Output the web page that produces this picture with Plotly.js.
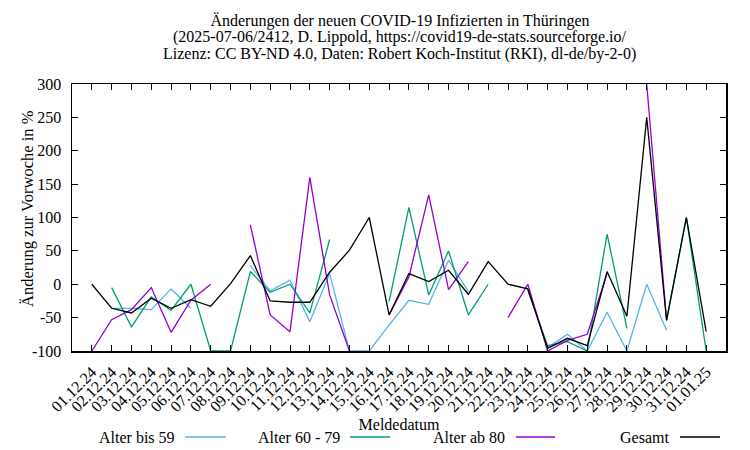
<!DOCTYPE html>
<html>
<head>
<meta charset="utf-8">
<script src="https://cdn.plot.ly/plotly-3.0.1.min.js"></script>
<style>html,body{margin:0;padding:0;background:#fff;}#chart{width:750px;height:450px;}</style>
</head>
<body>
<div id="chart"></div>
<script>
// ---- data ----
const dates = ['01.12.24','02.12.24','03.12.24','04.12.24','05.12.24','06.12.24','07.12.24','08.12.24',
  '09.12.24','10.12.24','11.12.24','12.12.24','13.12.24','14.12.24','15.12.24','16.12.24',
  '17.12.24','18.12.24','19.12.24','20.12.24','21.12.24','22.12.24','23.12.24','24.12.24',
  '25.12.24','26.12.24','27.12.24','28.12.24','29.12.24','30.12.24','31.12.24','01.01.25'];
const seriesNames = ['Alter bis 59', 'Alter 60 - 79', 'Alter ab 80', 'Gesamt'];
const alterBis59 = [null,-36,-36,-38,-7,-36,null,null,28,-10,6,-56,16,-100,-100,-61,
  -24,-30,36,-11,null,null,null,-95,-75,-100,-42,-100,0,-69,null,null];
const alter60bis79 = [null,-5,-64,-19,-39,0,-100,-100,19,-12,0,-43,67,null,null,-26,
  115,-16,50,-46,0,null,-9,-92,-86,-100,75,-66,null,-54,100,-100];
const alterAb80 = [-100,-53,-38,-5,-72,-24,0,null,89,-46,-71,160,-16,-100,null,-46,
  11,134,-8,34,null,-50,0,-100,-84,-75,16,null,300,-54,null,null];
const gesamt = [0,-36,-43,-21,-36,-23,-33,1,43,-25,-27,-27,18,51,100,-46,
  16,4,21,-15,34,0,-7,-96,-81,-92,19,-48,250,-54,100,-71];
const yTickVals = [-100,-50,0,50,100,150,200,250,300];
const yTickText = ['-100','-50','0','50','100','150','200','250','300'];
const titleLines = ['Änderungen der neuen COVID-19 Infizierten in Thüringen',
  '(2025-07-06/2412, D. Lippold, https://covid19-de-stats.sourceforge.io/',
  'Lizenz: CC BY-ND 4.0, Daten: Robert Koch-Institut (RKI), dl-de/by-2-0)'];
const xTitle = 'Meldedatum';
const yTitle = 'Änderung zur Vorwoche in %';

// ---- style ----
const colors = ['#56b4e9', '#009e73', '#9400d3', '#000000'];
const FONT = 'Liberation Serif, Times New Roman, serif';
const W = 750, H = 450;
const M = {l: 72, r: 24, t: 84, b: 99};
const pw = W - M.l - M.r, ph = H - M.t - M.b;
const px = x => (x - M.l) / pw;
const py = y => (H - M.b - y) / ph;

const allSeries = [alterBis59, alter60bis79, alterAb80, gesamt];
const traces = allSeries.map((vals, i) => ({
  type: 'scatter', mode: 'lines', x: dates, y: vals, name: seriesNames[i],
  line: {color: colors[i], width: 1.3}, connectgaps: false, showlegend: false,
  cliponaxis: true
}));

// custom legend (text followed by line sample, like gnuplot)
const legendPos = [
  {textRight: 177, x0: 185, x1: 226},
  {textRight: 342, x0: 350, x1: 390},
  {textRight: 507, x0: 516, x1: 555},
  {textRight: 671, x0: 680, x1: 720}
];
const legendY = 437;
const txtFont = {family: FONT, size: 16, color: '#000'};

const annotations = [];
const shapes = [];
titleLines.slice(1).forEach((t, i) => {
  annotations.push({text: t, xref: 'paper', yref: 'paper', x: px(400), y: py(37 + 16.5 * i),
    xanchor: 'center', yanchor: 'middle', showarrow: false, font: txtFont});
});
annotations.push({text: yTitle, xref: 'paper', yref: 'paper', x: px(27), y: py(209), textangle: -90,
  xanchor: 'center', yanchor: 'middle', showarrow: false, font: {family: FONT, size: 16.5, color: '#000'}});
seriesNames.forEach((n, i) => {
  const p = legendPos[i];
  annotations.push({text: n, xref: 'paper', yref: 'paper', x: px(p.textRight), y: py(legendY),
    xanchor: 'right', yanchor: 'middle', showarrow: false, font: txtFont});
  shapes.push({type: 'line', xref: 'paper', yref: 'paper', x0: px(p.x0), x1: px(p.x1), y0: py(legendY), y1: py(legendY),
    line: {color: colors[i], width: 1.3}});
});

const layout = {
  width: W, height: H, margin: M,
  paper_bgcolor: '#fff', plot_bgcolor: '#fff',
  font: txtFont,
  title: {text: titleLines[0], x: px(400), xanchor: 'center', xref: 'paper', y: 1 - 20 / H, yanchor: 'middle',
    font: txtFont},
  showlegend: false,
  xaxis: {
    type: 'category', range: [-1, 32], tickmode: 'linear', tick0: 0, dtick: 1,
    tickangle: -45, ticks: 'inside', ticklen: 6, tickwidth: 1, tickcolor: '#000',
    showline: true, linecolor: '#000', linewidth: 1.5, mirror: 'allticks',
    showgrid: false, zeroline: false, automargin: false, ticklabelstandoff: 4,
    tickfont: txtFont,
    title: {text: xTitle, standoff: 4, font: txtFont}
  },
  yaxis: {
    range: [-100, 300], tickmode: 'array', tickvals: yTickVals, ticktext: yTickText,
    ticks: 'inside', ticklen: 6, tickwidth: 1, tickcolor: '#000',
    showline: true, linecolor: '#000', linewidth: 1.5, mirror: 'allticks',
    showgrid: false, zeroline: false, automargin: false, ticklabelstandoff: 6,
    tickfont: txtFont
  },
  annotations: annotations,
  shapes: shapes
};

Plotly.newPlot('chart', traces, layout, {displayModeBar: false, staticPlot: true});
</script>
</body>
</html>
